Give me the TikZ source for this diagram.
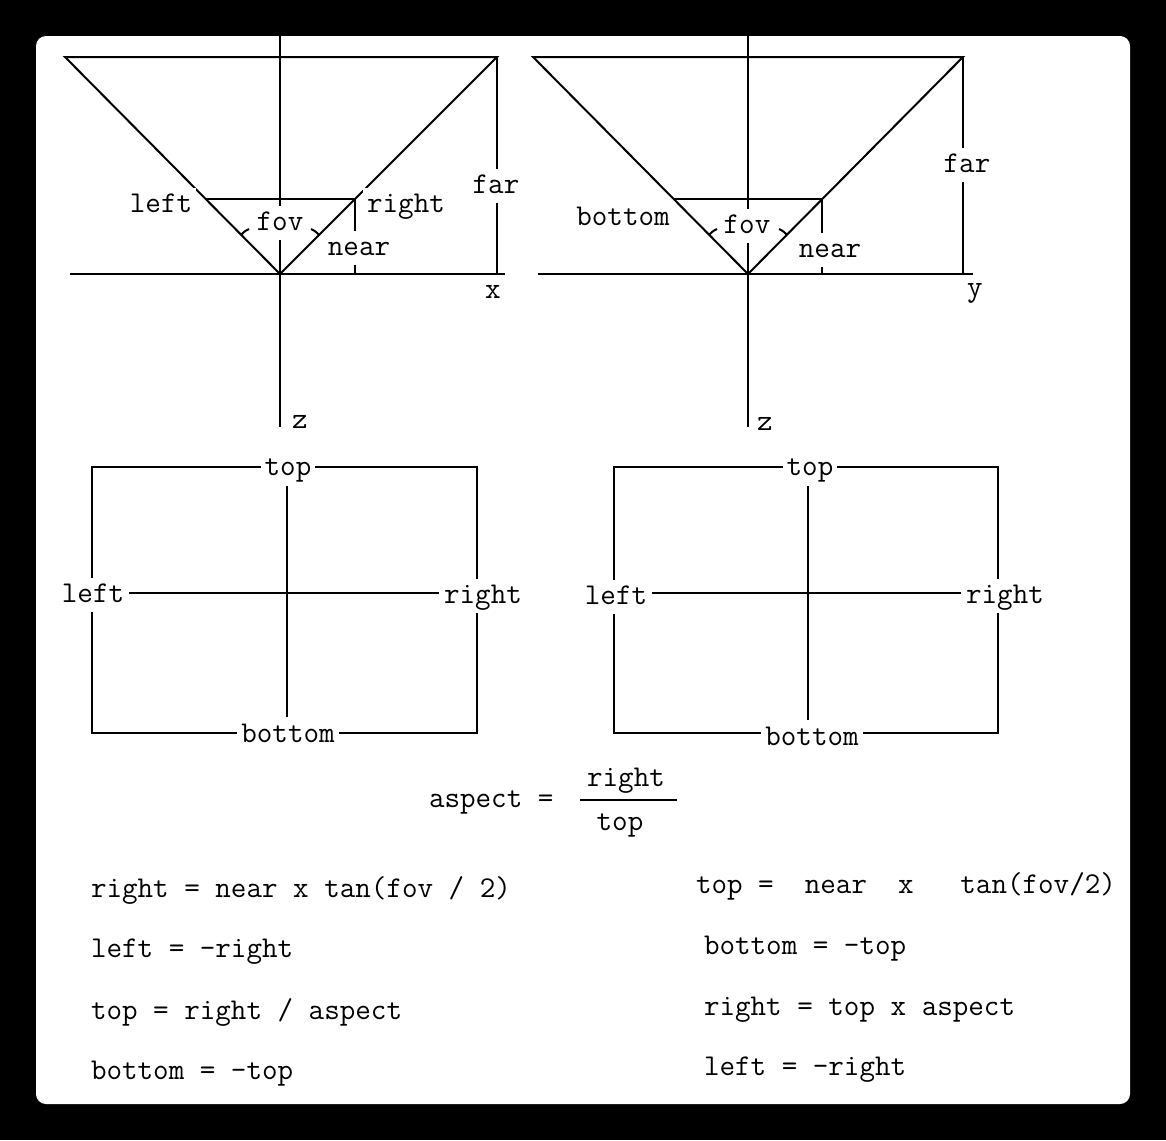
\documentclass[tikz,border=0pt]{standalone}
\usepackage{fontspec}
\usepackage{tikz}

\begin{document}
\begin{tikzpicture}[x=0.5pt, y=-0.5pt, line width=1pt,
  lbl/.style={fill=white, inner sep=2pt, font=\ttfamily\fontsize{15.1}{17}\selectfont, text height=10pt, text depth=3pt},
  eqn/.style={anchor=west, inner sep=0pt, font=\ttfamily\fontsize{15.1}{17}\selectfont, text height=10pt, text depth=3pt}]
  % frame
  \fill[black] (0,0) rectangle (1166,1140);
  \fill[white, rounded corners=5pt] (36,36) rectangle (1130,1104);

  % x-z view
  \coordinate (apexA) at (280,274);
  \coordinate (farLA) at (65,57);
  \coordinate (farRA) at (497,57);
  \coordinate (nearLA) at (206,199);
  \coordinate (nearRA) at (355,199);
  \coordinate (nearBA) at (355,274);
  \coordinate (farBA) at (497,274);
  \coordinate (axTopA) at (280,36);
  \coordinate (axEndA) at (280,427);
  \coordinate (axLA) at (70,274);
  \coordinate (axRA) at (505,274);
  \draw (farLA) -- (farRA) -- (apexA) -- cycle;
  \draw (nearLA) -- (nearRA) -- (nearBA);
  \draw (farRA) -- (farBA);
  \draw (axTopA) -- (axEndA);
  \draw (axLA) -- (axRA);
  \draw (241,235) to[bend left=12] (249,229);
  \draw (319,235) to[bend right=12] (311,229);
  \node[lbl] (leftA) at (161,205) {left};
  \node[lbl] (rightA) at (406,205) {right};
  \node[lbl] (fovA) at (280,223) {fov};
  \node[lbl] (nearA) at (359,248) {near};
  \node[lbl] (farA) at (496,186) {far};
  \node[lbl, fill=none] (xA) at (493,291) {x};
  \node[lbl, fill=none] (zA) at (300,421) {z};

  % y-z view
  \coordinate (apexB) at (748,274);
  \coordinate (farLB) at (533,57);
  \coordinate (farRB) at (963,57);
  \coordinate (nearLB) at (674,199);
  \coordinate (nearRB) at (822,199);
  \coordinate (nearBB) at (822,274);
  \coordinate (farBB) at (963,274);
  \coordinate (axTopB) at (748,36);
  \coordinate (axEndB) at (748,427);
  \coordinate (axLB) at (538,274);
  \coordinate (axRB) at (973,274);
  \draw (farLB) -- (farRB) -- (apexB) -- cycle;
  \draw (nearLB) -- (nearRB) -- (nearBB);
  \draw (farRB) -- (farBB);
  \draw (axTopB) -- (axEndB);
  \draw (axLB) -- (axRB);
  \draw (709,235) to[bend left=12] (717,229);
  \draw (787,235) to[bend right=12] (779,229);
  \node[lbl] (bottomB) at (623,218) {bottom};
  \node[lbl] (fovB) at (747,226) {fov};
  \node[lbl] (nearB) at (830,250) {near};
  \node[lbl] (farB) at (967,165) {far};
  \node[lbl, fill=none] (yB) at (975,289) {y};
  \node[lbl, fill=none] (zB) at (765,423) {z};

  % near plane, left
  \draw (92,467) rectangle (477,733);
  \node[lbl] (topC) at (288,468) {top};
  \node[lbl] (botC) at (288,735) {bottom};
  \node[lbl] (leftC) at (93,595) {left};
  \node[lbl] (rightC) at (483,596) {right};
  \draw (topC.south -| 287,0) -- (botC.north -| 287,0);
  \draw (leftC.east |- 0,593) -- (rightC.west |- 0,593);

  % near plane, right
  \draw (614,467) rectangle (998,733);
  \node[lbl] (topD) at (810,468) {top};
  \node[lbl] (botD) at (812,738) {bottom};
  \node[lbl] (leftD) at (616,597) {left};
  \node[lbl] (rightD) at (1005,596) {right};
  \draw (topD.south -| 808,0) -- (botD.north -| 808,0);
  \draw (leftD.east |- 0,593) -- (rightD.west |- 0,593);

  % aspect
  \coordinate (barL) at (580,800);
  \coordinate (barR) at (677,800);
  \node[eqn] (aspect) at (428,800) {aspect =};
  \node[lbl, fill=none] (fracnum) at (626,779) {right};
  \node[lbl, fill=none] (fracden) at (620,823) {top};
  \draw (barL) -- (barR);

  % formulas
  \node[eqn] (eqA1) at (90,890) {right = near x tan(fov / 2)};
  \node[eqn] (eqA2) at (90,950) {left = -right};
  \node[eqn] (eqA3) at (90,1012) {top = right / aspect};
  \node[eqn] (eqA4) at (90,1072) {bottom = -top};
  \node[eqn] (eqB1) at (695,886) {top =~~near~~x~~~tan(fov/2)};
  \node[eqn] (eqB2) at (703,947) {bottom = -top};
  \node[eqn] (eqB3) at (703,1008) {right = top x aspect};
  \node[eqn] (eqB4) at (703,1068) {left = -right};
\end{tikzpicture}
\end{document}
